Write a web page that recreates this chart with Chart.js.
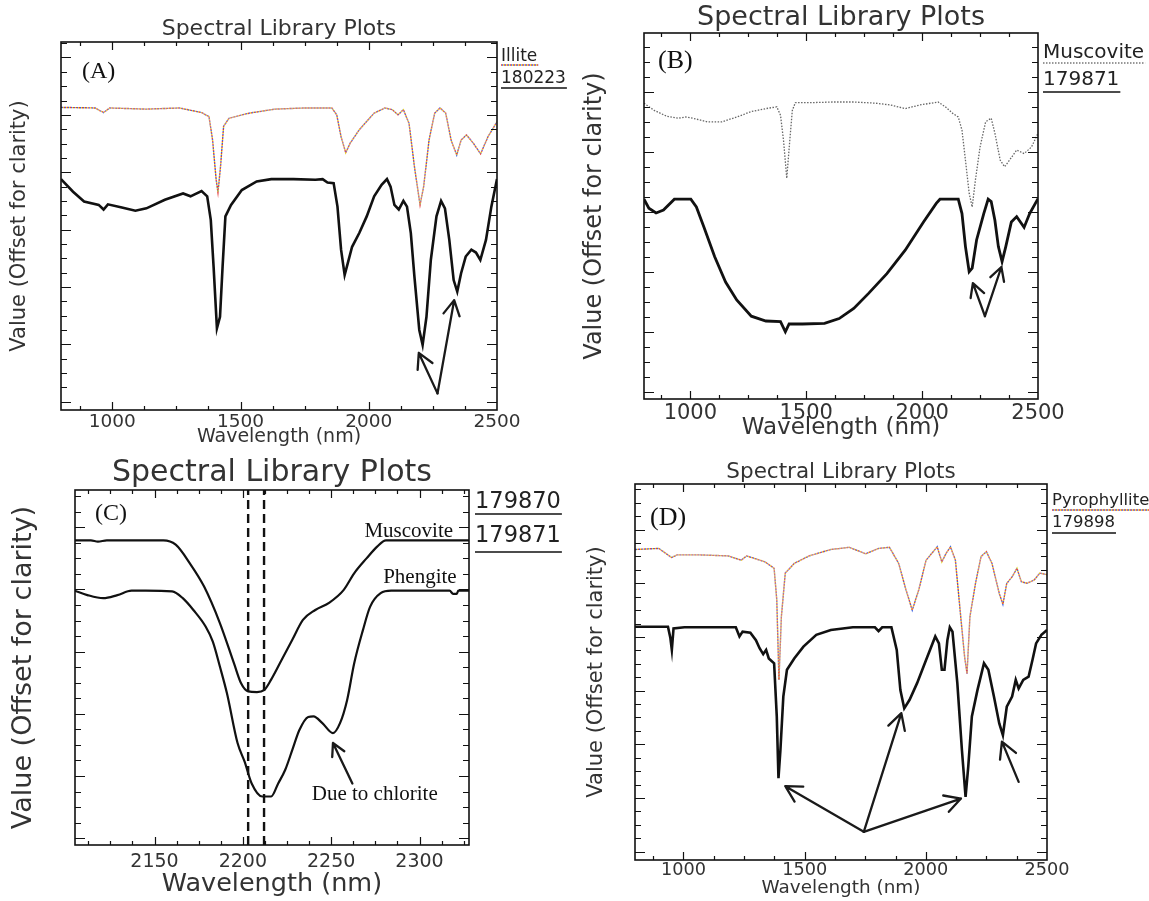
<!DOCTYPE html>
<html>
<head>
<meta charset="utf-8">
<script src="https://cdn.jsdelivr.net/npm/chart.js@4.4.1/dist/chart.umd.min.js"></script>
<style>
  body { margin: 0; background: #fff; }
  #page { position: relative; width: 1149px; height: 901px; background: #fff; }
  canvas { position: absolute; }
</style>
</head>
<body>
<div id="page">
  <canvas id="chartA"></canvas>
  <canvas id="chartB"></canvas>
  <canvas id="chartC"></canvas>
  <canvas id="chartD"></canvas>
</div>
<script>
// ---- data (wavelength in nm, value in offset units) ----
const illiteSampleWl = [800,847,890,947,966,983,1033,1090,1133,1205,1276,1305,1348,1370,1384,1395,1408,1420,1430,1441,1463,1505,1563,1620,1706,1792,1820,1839,1863,1878,1892,1906,1918,1935,1963,1992,2021,2050,2071,2085,2100,2117,2135,2149,2164,2178,2197,2210,2225,2242,2264,2282,2297,2314,2331,2345,2360,2378,2400,2418,2435,2457,2478,2500];
const illiteSampleVal = [3.88,3.66,3.49,3.43,3.35,3.44,3.39,3.33,3.37,3.52,3.63,3.58,3.67,3.58,3.17,2.35,1.28,1.48,2.35,3.23,3.43,3.69,3.84,3.88,3.88,3.87,3.88,3.82,3.81,3.40,2.65,2.21,2.41,2.70,2.94,3.23,3.58,3.78,3.88,3.75,3.43,3.35,3.50,3.40,2.94,2.18,1.25,0.99,1.48,2.47,3.23,3.50,3.37,2.82,2.12,1.92,2.24,2.53,2.65,2.60,2.47,2.82,3.40,3.88];
const illiteLibWl = [800,933,966,990,1133,1262,1348,1377,1391,1405,1412,1422,1434,1455,1534,1634,1749,1856,1875,1892,1910,1928,1963,2021,2063,2092,2114,2135,2157,2178,2200,2214,2235,2257,2278,2300,2321,2343,2360,2381,2407,2436,2465,2500];
const illiteLibVal = [5.13,5.12,5.04,5.12,5.10,5.12,5.04,4.97,4.56,3.87,3.65,4.10,4.80,4.94,5.03,5.10,5.12,5.12,5.00,4.62,4.34,4.51,4.74,5.03,5.12,5.09,5.00,5.09,4.85,4.10,3.43,3.75,4.56,5.03,5.12,5.03,4.56,4.30,4.56,4.65,4.51,4.32,4.62,4.88];

const muscoviteSampleWl = [800,821,852,884,931,979,1002,1026,1058,1105,1152,1200,1263,1326,1389,1410,1426,1484,1579,1642,1705,1769,1848,1927,2006,2061,2077,2156,2172,2187,2203,2216,2235,2266,2285,2298,2314,2329,2345,2361,2385,2408,2424,2440,2464,2500];
const muscoviteSampleVal = [3.21,3.06,2.98,3.03,3.21,3.21,3.21,3.08,2.75,2.25,1.83,1.53,1.26,1.18,1.17,1.00,1.13,1.13,1.14,1.22,1.39,1.64,1.97,2.36,2.83,3.14,3.21,3.21,2.97,2.42,2.00,2.06,2.53,2.97,3.21,3.17,2.86,2.42,2.17,2.42,2.83,2.92,2.83,2.74,2.97,3.22];
const muscoviteLibWl = [800,844,900,947,979,1010,1073,1137,1200,1263,1326,1373,1389,1402,1416,1429,1440,1453,1532,1611,1705,1800,1863,1927,1990,2069,2100,2132,2156,2172,2187,2203,2216,2230,2250,2274,2298,2314,2337,2356,2377,2408,2440,2472,2500];
const muscoviteLibVal = [4.81,4.69,4.59,4.56,4.58,4.56,4.50,4.50,4.58,4.67,4.72,4.75,4.61,4.19,3.56,4.19,4.69,4.82,4.82,4.83,4.83,4.81,4.78,4.72,4.78,4.83,4.75,4.64,4.58,4.36,3.86,3.31,3.08,3.53,4.08,4.50,4.56,4.31,3.86,3.75,3.86,4.03,3.97,4.08,4.31];

const muscoviteZoomWl = [2105,2114,2118,2123,2155,2162,2170,2178,2187,2195,2199,2203,2208,2212,2216,2222,2228,2234,2241,2249,2257,2263,2270,2276,2281,2328];
const muscoviteZoomVal = [4.79,4.79,4.77,4.79,4.79,4.72,4.42,4.05,3.46,2.81,2.49,2.36,2.35,2.38,2.55,2.87,3.19,3.51,3.67,3.79,3.99,4.26,4.50,4.69,4.79,4.79];
const phengiteZoomWl = [2105,2112,2121,2129,2137,2145,2160,2166,2172,2179,2183,2187,2191,2197,2201,2205,2211,2216,2220,2224,2228,2232,2237,2240,2245,2251,2255,2259,2263,2268,2272,2278,2284,2317,2319,2321,2322,2328];
const phengiteZoomVal = [3.98,3.91,3.86,3.91,3.98,3.98,3.97,3.86,3.67,3.40,3.16,2.76,2.33,1.53,1.23,0.88,0.67,0.67,0.88,1.10,1.42,1.74,1.95,1.96,1.85,1.69,1.85,2.22,2.81,3.35,3.72,3.94,3.98,3.98,3.93,3.93,3.98,3.98];
const featureWl = [2203, 2212];

const pyroSampleWl = [800,936,946,952,959,1004,1110,1216,1231,1244,1276,1299,1314,1329,1341,1352,1374,1385,1392,1400,1412,1427,1457,1495,1548,1608,1699,1790,1805,1820,1858,1880,1895,1911,1933,1964,2001,2039,2054,2066,2077,2089,2099,2110,2130,2149,2164,2175,2190,2213,2240,2258,2281,2303,2318,2334,2356,2371,2383,2402,2424,2440,2455,2477,2500];
const pyroSampleVal = [4.19,4.19,3.98,3.76,4.16,4.18,4.18,4.18,4.01,4.10,4.08,3.94,3.79,3.68,3.76,3.60,3.51,2.52,1.37,1.89,2.89,3.39,3.60,3.82,4.04,4.13,4.18,4.18,4.11,4.18,4.18,3.76,3.01,2.67,2.83,3.14,3.57,4.01,3.88,3.39,3.39,3.94,4.18,4.10,3.14,1.89,1.02,1.58,2.52,3.01,3.51,3.39,2.89,2.39,2.17,2.70,2.89,3.20,3.04,3.20,3.26,3.57,3.88,4.04,4.13];
const pyroLibWl = [800,898,951,974,1064,1185,1238,1261,1336,1374,1385,1394,1404,1420,1457,1518,1608,1684,1752,1805,1850,1888,1918,1944,1971,2001,2047,2066,2084,2102,2122,2144,2160,2170,2182,2205,2228,2250,2273,2303,2318,2334,2356,2376,2394,2417,2447,2470,2500];
const pyroLibVal = [5.63,5.65,5.48,5.53,5.53,5.51,5.43,5.51,5.40,5.28,4.69,3.20,4.38,5.19,5.37,5.51,5.63,5.67,5.55,5.65,5.67,5.37,4.88,4.50,4.88,5.43,5.68,5.40,5.56,5.68,5.43,4.38,3.63,3.32,4.38,5.00,5.50,5.59,5.37,4.81,4.61,5.00,5.12,5.28,5.03,5.00,5.06,5.19,5.16];

// arrows: [tail wl, tail value, tip wl, tip value]
const illiteArrows = [[2268, 0.145, 2195, 0.85], [2268, 0.145, 2333, 1.77]];
const muscoviteArrows = [[2271, 1.26, 2219, 1.81], [2271, 1.26, 2342, 2.08]];
const chloriteArrows = [[2262, 0.88, 2251, 1.53]];
const pyroArrows = [[1744, 0.37, 1420, 1.22], [1744, 0.37, 1899, 2.58], [1744, 0.37, 2145, 0.99], [2383, 1.30, 2314, 2.05]];

const zoomNoteText = ['Muscovite', 'Phengite', 'Due to chlorite'];
const zoomNoteWl = [2319, 2321, 2239];
const zoomNoteVal = [4.84, 4.10, 0.62];

const SANS = '"DejaVu Sans", sans-serif';
const SERIF = '"Liberation Serif", serif';
const DOT_COLORS = ['#e23b3b', '#e6cf1f', '#3a5ee0'];

const pts = (wl, val) => wl.map((w, i) => ({x: w, y: val[i]}));

function solidSet(wl, val, width, smooth) {
    const ds = {data: pts(wl, val), borderColor: '#111', borderWidth: width, pointRadius: 0};
    if (smooth) ds.cubicInterpolationMode = 'monotone';
    return ds;
}

function dottedSets(wl, val) {
    return DOT_COLORS.map((c, i) => ({
        data: pts(wl, val), borderColor: c, borderWidth: 1.4,
        borderDash: [1, 2], borderDashOffset: i, pointRadius: 0
    }));
}

function underline(ctx, x0, x1, y, style) {
    ctx.save();
    if (style === 'multi') {
        ctx.lineWidth = 1.4;
        ctx.setLineDash([1, 2]);
        DOT_COLORS.forEach((c, i) => {
            ctx.lineDashOffset = i;
            ctx.strokeStyle = c;
            ctx.beginPath(); ctx.moveTo(x0, y); ctx.lineTo(x1, y); ctx.stroke();
        });
    } else if (style === 'gray') {
        ctx.lineWidth = 1.3;
        ctx.setLineDash([1.5, 1.5]);
        ctx.strokeStyle = '#777';
        ctx.beginPath(); ctx.moveTo(x0, y); ctx.lineTo(x1, y); ctx.stroke();
    } else {
        ctx.lineWidth = 1.6;
        ctx.strokeStyle = '#111';
        ctx.beginPath(); ctx.moveTo(x0, y); ctx.lineTo(x1, y); ctx.stroke();
    }
    ctx.restore();
}

function drawArrow(ctx, x0, y0, x1, y1, head) {
    const ang = Math.atan2(y1 - y0, x1 - x0);
    ctx.beginPath();
    ctx.moveTo(x0, y0);
    ctx.lineTo(x1, y1);
    for (const s of [-1, 1]) {
        const t = ang + Math.PI + s * 0.5;
        ctx.moveTo(x1, y1);
        ctx.lineTo(x1 + head * Math.cos(t), y1 + head * Math.sin(t));
    }
    ctx.stroke();
}

// frame, inward ticks, title, legend and annotations in IDL/ENVI style
const framePlugin = {
    id: 'frame',
    afterDatasetsDraw(chart, args, o) {
        const {ctx, chartArea: a, scales: {x, y}} = chart;
        ctx.save();
        ctx.strokeStyle = '#111';
        ctx.lineWidth = 1.2;
        ctx.beginPath();
        for (let v = Math.ceil(y.min / o.yStep) * o.yStep; v < y.max; v += o.yStep) {
            if (v <= y.min) continue;
            const py = Math.round(y.getPixelForValue(v)) + 0.5;
            const len = Math.abs(v - Math.round(v)) < 1e-6 ? 10 : 6;
            ctx.moveTo(a.left, py); ctx.lineTo(a.left + len, py);
            ctx.moveTo(a.right, py); ctx.lineTo(a.right - len, py);
        }
        for (let v = Math.ceil(x.min / o.xStep) * o.xStep; v < x.max; v += o.xStep) {
            if (v <= x.min) continue;
            const px = Math.round(x.getPixelForValue(v)) + 0.5;
            const len = v % o.xMajor === 0 ? 8 : 4;
            ctx.moveTo(px, a.bottom); ctx.lineTo(px, a.bottom - len);
            ctx.moveTo(px, a.top); ctx.lineTo(px, a.top + len);
        }
        ctx.stroke();
        ctx.lineWidth = 1.6;
        ctx.strokeRect(a.left, a.top, a.right - a.left, a.bottom - a.top);

        // title
        ctx.fillStyle = '#333';
        ctx.textBaseline = 'alphabetic';
        ctx.textAlign = 'center';
        ctx.font = `${o.titleSize}px ${SANS}`;
        ctx.fillText('Spectral Library Plots', (a.left + a.right) / 2, a.top - o.titleGap);

        // panel letter
        ctx.textAlign = 'left';
        ctx.fillStyle = '#111';
        ctx.font = `${o.letterSize}px ${SERIF}`;
        ctx.fillText(o.letter, a.left + o.letterDx, a.top + o.letterDy);

        // legend at right of the frame
        ctx.font = `${o.legendSize}px ${SANS}`;
        ctx.fillStyle = '#222';
        o.legend.forEach(r => {
            const lx = a.right + o.legendDx;
            ctx.fillText(r.text, lx, a.top + r.base);
            const w = ctx.measureText(r.text).width;
            underline(ctx, lx, lx + w + 1, a.top + r.line, r.style);
        });

        // arrows
        ctx.strokeStyle = '#1a1a1a';
        ctx.lineWidth = 2.3;
        ctx.lineCap = 'round';
        o.arrows.forEach(ar => drawArrow(ctx,
            x.getPixelForValue(ar[0]), y.getPixelForValue(ar[1]),
            x.getPixelForValue(ar[2]), y.getPixelForValue(ar[3]), o.headSize));

        // text notes
        if (o.notes) {
            ctx.font = `${o.noteSize}px ${SERIF}`;
            ctx.fillStyle = '#111';
            o.notes.text.forEach((t, i) => {
                ctx.textAlign = o.notes.align[i];
                ctx.fillText(t, x.getPixelForValue(o.notes.wl[i]), y.getPixelForValue(o.notes.val[i]));
            });
        }
        ctx.restore();
    }
};

function makeChart(p) {
    const canvas = document.getElementById(p.id);
    canvas.width = p.w;
    canvas.height = p.h;
    canvas.style.left = p.left + 'px';
    canvas.style.top = p.top + 'px';
    return new Chart(canvas, {
        type: 'line',
        data: {datasets: p.datasets},
        options: {
            responsive: false,
            animation: false,
            layout: {padding: {left: 0, top: p.area.t, right: p.w - p.area.r, bottom: 0}},
            elements: {point: {radius: 0}, line: {tension: 0}},
            plugins: {
                legend: {display: false},
                tooltip: {enabled: false},
                frame: p.frame,
            },
            scales: {
                x: {
                    type: 'linear',
                    min: p.xMin,
                    max: p.xMax,
                    afterFit: s => { s.height = p.h - p.area.b; },
                    grid: {display: false, drawTicks: false},
                    border: {display: false},
                    ticks: {
                        stepSize: p.frame.xStep,
                        autoSkip: false,
                        maxRotation: 0,
                        padding: p.tickPad,
                        color: '#333',
                        font: {family: SANS, size: p.tickSize},
                        callback: v => (v % p.frame.xMajor === 0 ? String(v) : ''),
                    },
                    title: {
                        display: true,
                        text: 'Wavelength (nm)',
                        color: '#333',
                        font: {family: SANS, size: p.xTitleSize},
                        padding: {top: 0, bottom: p.xTitleOffset - p.xTitleSize * 0.6},
                    },
                },
                y: {
                    type: 'linear',
                    min: p.yMin,
                    max: p.yMax,
                    afterFit: s => { s.width = p.area.l; },
                    grid: {display: false},
                    border: {display: false},
                    ticks: {display: false},
                    title: {
                        display: true,
                        text: 'Value (Offset for clarity)',
                        color: '#333',
                        font: {family: SANS, size: p.yTitleSize},
                        padding: {top: p.yTitleX - p.yTitleSize * 0.6, bottom: 0},
                    },
                },
            },
        },
        plugins: [framePlugin],
    });
}

makeChart({
    id: 'chartA', left: 0, top: 0, w: 575, h: 450,
    area: {l: 61, t: 42, r: 497, b: 410},
    xMin: 800, xMax: 2500, yMin: -0.145, yMax: 6.27,
    tickSize: 18.5, tickPad: 1, xTitleSize: 19, xTitleOffset: 13, yTitleSize: 21, yTitleX: 20,
    datasets: [solidSet(illiteSampleWl, illiteSampleVal, 2.6), ...dottedSets(illiteLibWl, illiteLibVal)],
    frame: {
        yStep: 0.25, xStep: 125, xMajor: 500,
        titleSize: 22, titleGap: 7,
        letter: '(A)', letterSize: 24, letterDx: 21, letterDy: 36,
        legendSize: 17, legendDx: 4,
        legend: [{text: 'Illite', base: 19, line: 23, style: 'multi'},
                 {text: '180223', base: 41, line: 46, style: 'solid'}],
        arrows: illiteArrows, headSize: 17,
    },
});

makeChart({
    id: 'chartB', left: 575, top: 0, w: 574, h: 450,
    area: {l: 69, t: 33, r: 463, b: 399},
    xMin: 800, xMax: 2500, yMin: -0.12, yMax: 5.98,
    tickSize: 21, tickPad: 1.5, xTitleSize: 23, xTitleOffset: 22, yTitleSize: 24, yTitleX: 20,
    datasets: [solidSet(muscoviteSampleWl, muscoviteSampleVal, 2.8),
               {data: pts(muscoviteLibWl, muscoviteLibVal), borderColor: '#666', borderWidth: 1.3, borderDash: [1.5, 1.5], pointRadius: 0}],
    frame: {
        yStep: 0.25, xStep: 125, xMajor: 500,
        titleSize: 27, titleGap: 8,
        letter: '(B)', letterSize: 26, letterDx: 14, letterDy: 35,
        legendSize: 20, legendDx: 5,
        legend: [{text: 'Muscovite', base: 25, line: 30, style: 'gray'},
                 {text: '179871', base: 52, line: 59, style: 'solid'}],
        arrows: muscoviteArrows, headSize: 15,
    },
});

makeChart({
    id: 'chartC', left: 0, top: 450, w: 575, h: 451,
    area: {l: 75, t: 40, r: 469, b: 395},
    xMin: 2105, xMax: 2328, yMin: -0.11, yMax: 5.60,
    tickSize: 19, tickPad: 5.5, xTitleSize: 25.5, xTitleOffset: 17, yTitleSize: 27, yTitleX: 24,
    datasets: [solidSet(muscoviteZoomWl, muscoviteZoomVal, 2.2, true),
               solidSet(phengiteZoomWl, phengiteZoomVal, 2.2, true),
               ...featureWl.map(w => ({data: [{x: w, y: -0.11}, {x: w, y: 5.60}], borderColor: '#111', borderWidth: 2.4, borderDash: [9, 5], pointRadius: 0}))],
    frame: {
        yStep: 0.25, xStep: 12.5, xMajor: 50,
        titleSize: 30, titleGap: 9,
        letter: '(C)', letterSize: 24, letterDx: 20, letterDy: 30,
        legendSize: 22.5, legendDx: 6,
        legend: [{text: '179870', base: 18, line: 24, style: 'solid'},
                 {text: '179871', base: 52, line: 62, style: 'solid'}],
        arrows: chloriteArrows, headSize: 14,
        noteSize: 21,
        notes: {text: zoomNoteText, wl: zoomNoteWl, val: zoomNoteVal, align: ['right', 'right', 'left']},
    },
});

makeChart({
    id: 'chartD', left: 575, top: 450, w: 574, h: 451,
    area: {l: 60, t: 34, r: 472, b: 410},
    xMin: 800, xMax: 2500, yMin: -0.155, yMax: 6.85,
    tickSize: 17.7, tickPad: 0, xTitleSize: 18.4, xTitleOffset: 13, yTitleSize: 21, yTitleX: 22,
    datasets: [solidSet(pyroSampleWl, pyroSampleVal, 2.6), ...dottedSets(pyroLibWl, pyroLibVal)],
    frame: {
        yStep: 0.25, xStep: 125, xMajor: 500,
        titleSize: 21.5, titleGap: 6,
        letter: '(D)', letterSize: 26, letterDx: 15, letterDy: 41,
        legendSize: 16.5, legendDx: 5,
        legend: [{text: 'Pyrophyllite', base: 21, line: 26, style: 'multi'},
                 {text: '179898', base: 43, line: 49, style: 'solid'}],
        arrows: pyroArrows, headSize: 18,
    },
});
</script>
</body>
</html>
